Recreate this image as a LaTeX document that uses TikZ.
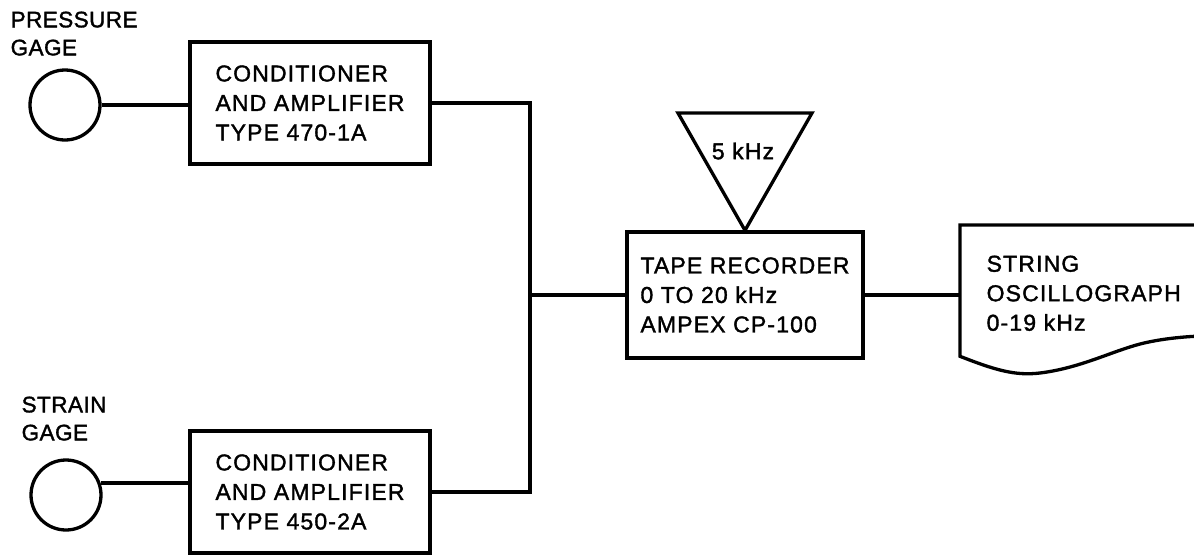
\documentclass[tikz,border=0pt]{standalone}
\usepackage{fontspec}
\setmainfont{Liberation Sans}[LetterSpace=5,FakeBold=1.5]
\newfontfamily\gagefont{Liberation Sans}[LetterSpace=2,FakeBold=1.5]
\begin{document}
\begin{tikzpicture}[x=1pt,y=-1pt, line width=3.3pt,
  every node/.style={font=\fontsize{23}{29.5}\selectfont, inner sep=0pt},
  box/.style={draw, rectangle, minimum width=240pt, minimum height=122pt, align=left},
  gage/.style={draw, circle, minimum size=70pt},
  lbl/.style={align=left, anchor=north west},
  gagelbl/.style={lbl, font=\gagefont\fontsize{22.5}{28}\selectfont}]
\useasboundingbox (0,0) rectangle (1194,555);
% gages
\node[gage] (pg) at (65,105) {};
\node[gage] (sg) at (66,495) {};
\node[gagelbl] (pgl) at (9,10) {PRESSURE\\GAGE};
\node[gagelbl] (sgl) at (20,395) {STRAIN\\GAGE};
% amplifiers
\node[box] (amp1) at (310,103) {CONDITIONER\\AND AMPLIFIER\\TYPE 470-1A};
\node[box] (amp2) at (310,492) {CONDITIONER\\AND AMPLIFIER\\TYPE 450-2A};
% tape recorder
\node[box, minimum width=236pt, minimum height=126pt] (rec) at (745,295) {TAPE RECORDER\\0 TO 20 kHz\\AMPEX CP-100};
% oscillator triangle
\coordinate (tl) at (678,113);
\coordinate (tr) at (812,113);
\draw[line join=miter] (tl) -- (tr) -- (rec.north) -- cycle;
\node (osc5) at (743,151) {5 kHz};
% oscillograph
\node[minimum width=240pt, minimum height=128pt, anchor=north west] (osc) at (960,225) {};
\draw (osc.north east) -- (osc.north west) -- (osc.south west)
  .. controls (995,370) and (1015,376) .. (1040,373)
  .. controls (1080,368) and (1110,352) .. (1140,344)
  .. controls (1160,339) and (1180,337) .. (1200,336);
\node[lbl] (osct) at (985,254) {STRING\\OSCILLOGRAPH\\0-19 kHz};
% connectors
\draw (pg.east) -- (pg.east -| amp1.west);
\draw (sg.19.5) -- (sg.19.5 -| amp2.west);
\coordinate (bus) at (530,295);
\draw (amp1.east) -| (bus) |- (amp2.east);
\draw (bus) -- (rec.west);
\draw (rec.east) -- (rec.east -| osc.west);
\end{tikzpicture}
\end{document}
